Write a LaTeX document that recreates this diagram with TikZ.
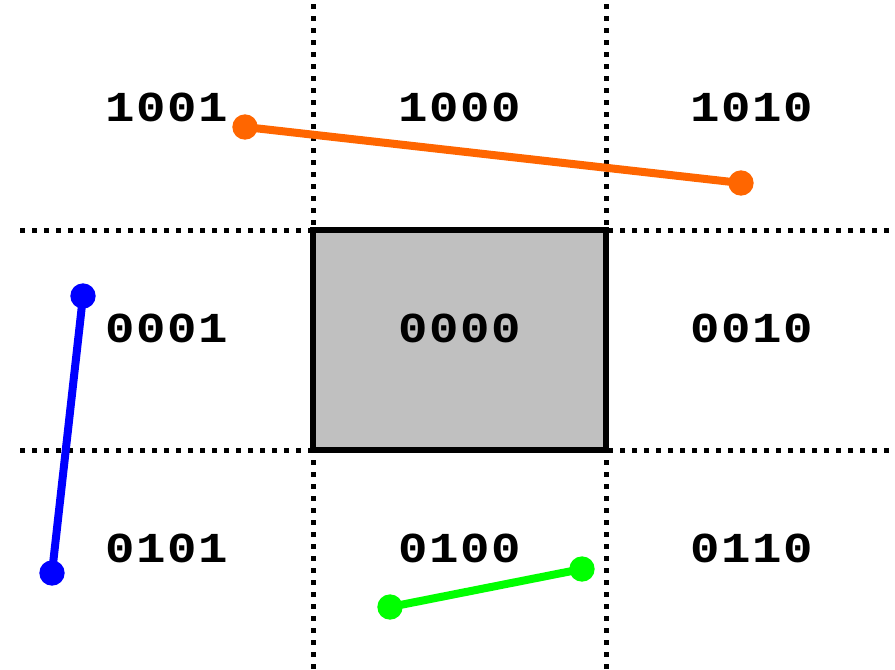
\documentclass[tikz,border=0pt]{standalone}
\usepackage{fontspec}
\setmainfont{DejaVu Sans}
\newfontfamily\codefont[FakeStretch=1.15, LetterSpace=4]{Liberation Mono Bold}
\usetikzlibrary{positioning}
\definecolor{segorange}{RGB}{255, 102, 0}
\definecolor{segblue}{RGB}{0, 0, 255}
\definecolor{seggreen}{RGB}{0, 255, 0}
\definecolor{clipgray}{RGB}{192, 192, 192}

\begin{document}
\begin{tikzpicture}[x=0.75pt, y=-0.75pt,
    gridline/.style={line width=3.75pt, dash pattern=on 3.75pt off 5.25pt},
    code/.style={font=\codefont\fontsize{32}{34}\selectfont},
    endpt/.style={circle, fill=#1, inner sep=0pt, minimum size=19pt},
    seg/.style={line width=6pt, #1}]
    \useasboundingbox (0,0) rectangle (895,669);
    % clip window
    \draw[fill=clipgray, line width=4.5pt] (313,230) rectangle (606,450);
    % region borders
    \draw[gridline] (20,230) -- (895,230);
    \draw[gridline] (20,450) -- (895,450);
    \draw[gridline] (313,4) -- (313,669);
    \draw[gridline] (606,4) -- (606,669);
    \draw[line width=4.5pt] (313,230) rectangle (606,450);
    % outcodes
    \node[code] (c1001) at (167,107) {1001};
    \node[code] (c1000) at (460,107) {1000};
    \node[code] (c1010) at (752,107) {1010};
    \node[code] (c0001) at (167,328) {0001};
    \node[code] (c0000) at (460,328) {0000};
    \node[code] (c0010) at (752,328) {0010};
    \node[code] (c0101) at (167,548) {0101};
    \node[code] (c0100) at (460,548) {0100};
    \node[code] (c0110) at (752,548) {0110};
    % segments
    \node[endpt=segorange] (oa) at (245,127) {};
    \node[endpt=segorange] (ob) at (741,183) {};
    \node[endpt=segblue] (ba) at (83,296) {};
    \node[endpt=segblue] (bb) at (52,573) {};
    \node[endpt=seggreen] (ga) at (390,607) {};
    \node[endpt=seggreen] (gb) at (582,569) {};
    \draw[seg=segorange] (oa.center) -- (ob.center);
    \draw[seg=segblue] (ba.center) -- (bb.center);
    \draw[seg=seggreen] (ga.center) -- (gb.center);
\end{tikzpicture}
\end{document}
